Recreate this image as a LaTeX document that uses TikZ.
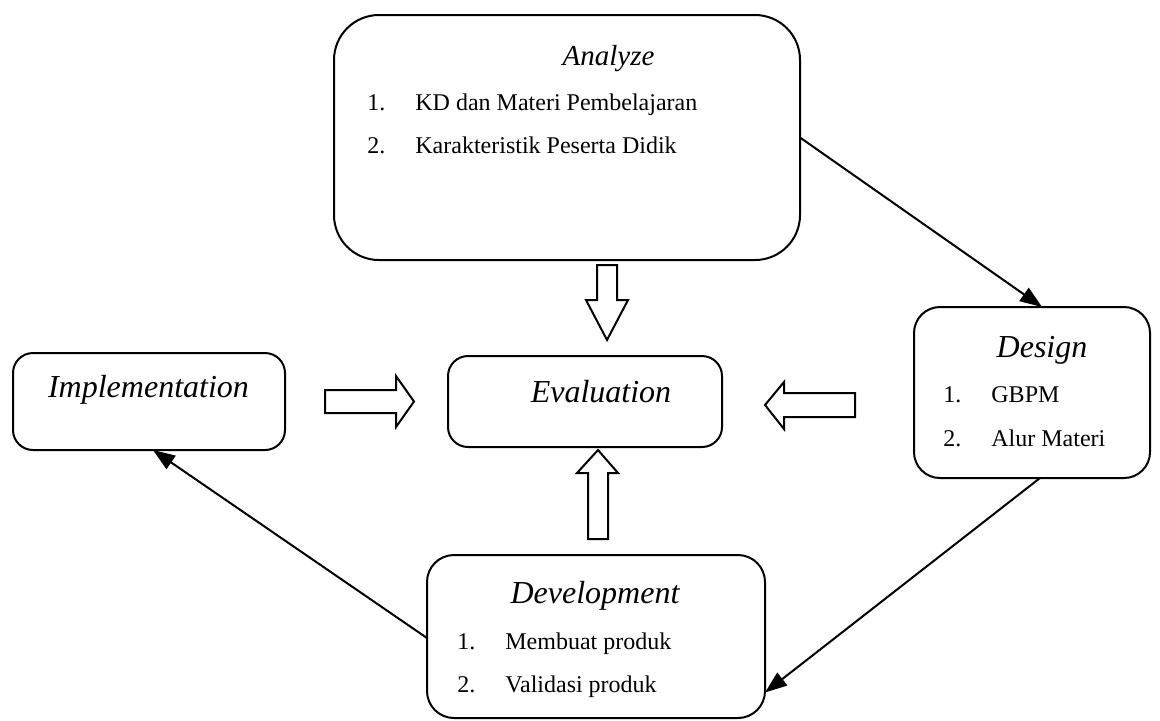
\documentclass[tikz,border=0pt]{standalone}
\usepackage{fontspec}
\setmainfont{Liberation Serif}
\usetikzlibrary{arrows.meta,calc}
\begin{document}
\begin{tikzpicture}[x=0.5pt,y=-0.5pt,
  box/.style={draw, line width=1pt, inner sep=0pt, outer sep=0pt},
  ttl/.style={font=\fontsize{16}{19}\selectfont\itshape, inner sep=0pt, anchor=base},
  itm/.style={font=\fontsize{12}{14}\selectfont, inner sep=0pt, anchor=base west},
  conn/.style={line width=1pt, -{Triangle[length=11pt,width=8pt]}},
  blk/.style={draw, line width=1pt, fill=white, line join=miter}]
\useasboundingbox (0,0) rectangle (1160,720);

% boxes
\node[box, rounded corners=22.5pt, minimum width=233pt, minimum height=122.5pt] (ana) at (567,137.5) {};
\node[box, rounded corners=13pt, minimum width=118pt, minimum height=85.5pt] (des) at (1032,392.5) {};
\node[box, rounded corners=10pt, minimum width=136pt, minimum height=48.5pt] (imp) at (149,401.5) {};
\node[box, rounded corners=10pt, minimum width=137pt, minimum height=45.5pt] (eva) at (585,401.5) {};
\node[box, rounded corners=13.5pt, minimum width=169pt, minimum height=81.5pt] (dev) at (596,636.5) {};

% texts
\node[ttl, font=\fontsize{14.5}{17}\selectfont\itshape] (anaT) at (608.5,65) {Analyze};
\node[itm] (ana1n) at (367,110) {1.};
\node[itm] (ana1) at (415,110) {KD dan Materi Pembelajaran};
\node[itm] (ana2n) at (367,153) {2.};
\node[itm] (ana2) at (415,153) {Karakteristik Peserta Didik};

\node[ttl] (desT) at (1042,357) {Design};
\node[itm] (des1n) at (943,402) {1.};
\node[itm] (des1) at (991,402) {GBPM};
\node[itm] (des2n) at (943,446) {2.};
\node[itm] (des2) at (991,446) {Alur Materi};

\node[ttl] (impT) at (148.5,397) {Implementation};
\node[ttl] (evaT) at (601,402) {Evaluation};

\node[ttl] (devT) at (595,603) {Development};
\node[itm] (dev1n) at (457,649) {1.};
\node[itm] (dev1) at (505,649) {Membuat produk};
\node[itm] (dev2n) at (457,692) {2.};
\node[itm] (dev2) at (505,692) {Validasi produk};

% connectors
\draw[conn] (ana.east) -- ([xshift=5pt]des.north);
\draw[conn] ([xshift=4pt]des.south) -- ([yshift=-28pt]dev.east);
\draw[conn] ([yshift=-0.75pt]dev.west) -- ([xshift=2pt]imp.south);

% block arrows
\draw[blk] (325,390) -- (396,390) -- (396,376) -- (414,401.5) -- (396,427) -- (396,413) -- (325,413) -- cycle;
\draw[blk] (855,393) -- (784,393) -- (784,382) -- (765,405) -- (784,429) -- (784,417) -- (855,417) -- cycle;
\draw[blk] (588,539) -- (588,473) -- (577,473) -- (598,450) -- (618,473) -- (608,473) -- (608,539) -- cycle;
\draw[blk] (597,265) -- (617,265) -- (617,300) -- (628,300) -- (607,340) -- (586,300) -- (597,300) -- cycle;
\end{tikzpicture}
\end{document}
